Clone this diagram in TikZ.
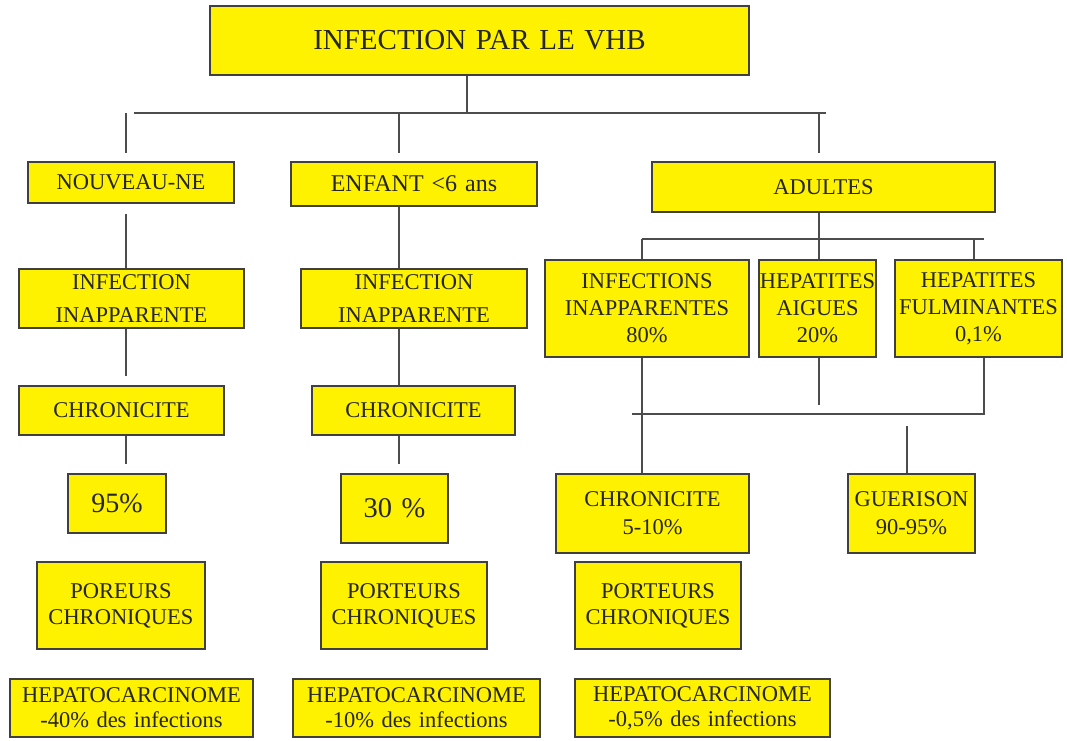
\documentclass[tikz,border=0pt]{standalone}
\usepackage{fontspec}
\setmainfont{Liberation Serif}
\usepackage{tikz}

\tikzset{
  bx/.style={draw=black!75, line width=1.3pt, fill=yellow, text=black!85,
    align=center, inner sep=0pt, font=\fontsize{22.5}{27}\selectfont},
  wire/.style={draw=black!70, line width=1.3pt}
}

\begin{document}
\begin{tikzpicture}[x=1pt,y=-1pt]
	\useasboundingbox (0,0) rectangle (1067,740);
	% top
	\node[bx, text width=539pt, minimum height=69pt, font=\fontsize{29}{33}\selectfont] (main) at (479.5,40.5) {INFECTION PAR LE VHB};
	% nouveau-ne
	\node[bx, text width=206pt, minimum height=41pt] (nn) at (131,182.5) {NOUVEAU-NE};
	\node[bx, text width=225pt, minimum height=59pt, font=\fontsize{22.5}{33}\selectfont] (infA) at (131.5,298.5) {INFECTION\\INAPPARENTE};
	\node[bx, text width=205pt, minimum height=49pt] (chrA) at (121.5,410.5) {CHRONICITE};
	\node[bx, text width=98pt, minimum height=59pt, font=\fontsize{28}{32}\selectfont] (pctA) at (117,503.5) {95\%};
	\node[bx, text width=168pt, minimum height=87pt, font=\fontsize{22.5}{26}\selectfont] (porA) at (121,605.5) {POREURS\\CHRONIQUES};
	\node[bx, text width=243pt, minimum height=58pt, font=\fontsize{22.5}{25}\selectfont] (hepA) at (131.5,708) {HEPATOCARCINOME\\-40\% des infections};
	% enfant
	\node[bx, text width=246pt, minimum height=44pt, font=\fontsize{24}{27}\selectfont] (enf) at (414,184) {ENFANT <6 ans};
	\node[bx, text width=226pt, minimum height=59pt, font=\fontsize{22.5}{33}\selectfont] (infB) at (414,298.5) {INFECTION\\INAPPARENTE};
	\node[bx, text width=203pt, minimum height=49pt] (chrB) at (413.5,410.5) {CHRONICITE};
	\node[bx, text width=107pt, minimum height=69pt, font=\fontsize{28.5}{32}\selectfont] (pctB) at (394.5,508.5) {30 \%};
	\node[bx, text width=166pt, minimum height=87pt, font=\fontsize{22.5}{26}\selectfont] (porB) at (404,605.5) {PORTEURS\\CHRONIQUES};
	\node[bx, text width=247pt, minimum height=58pt, font=\fontsize{22.5}{25}\selectfont] (hepB) at (416.5,708) {HEPATOCARCINOME\\-10\% des infections};
	% adultes
	\node[bx, text width=343pt, minimum height=50pt] (adu) at (823.5,187) {ADULTES};
	\node[bx, text width=204pt, minimum height=97pt] (infC) at (647,308.5) {INFECTIONS\\INAPPARENTES\\80\%};
	\node[bx, text width=117pt, minimum height=97pt] (aig) at (817.5,308.5) {HEPATITES\\AIGUES\\20\%};
	\node[bx, text width=167pt, minimum height=97pt] (ful) at (978.5,308.5) {HEPATITES\\FULMINANTES\\0,1\%};
	\node[bx, text width=193pt, minimum height=79pt, font=\fontsize{22.5}{28}\selectfont] (chrC) at (652.5,513.5) {CHRONICITE\\5-10\%};
	\node[bx, text width=127pt, minimum height=79pt, font=\fontsize{22.5}{28}\selectfont] (gue) at (911.5,513.5) {GUERISON\\90-95\%};
	\node[bx, text width=166pt, minimum height=87pt, font=\fontsize{22.5}{26}\selectfont] (porC) at (658,605.5) {PORTEURS\\CHRONIQUES};
	\node[bx, text width=255pt, minimum height=58pt, font=\fontsize{22.5}{25}\selectfont] (hepC) at (702.5,708) {HEPATOCARCINOME\\-0,5\% des infections};

	% bus points
	\coordinate (stem) at (467,113);
	\coordinate (busL) at (134,113);
	\coordinate (busR) at (826,113);
	\coordinate (colA) at (126,153);
	\coordinate (colB) at (399,153);
	\coordinate (colC) at (819,153);
	\coordinate (subL) at (642,239);
	\coordinate (subR) at (984,239);
	\coordinate (fulin) at (974,239);
	\coordinate (aigend) at (819,405);
	\coordinate (mergeR) at (984,414);
	\coordinate (mergeL) at (632,414);
	\coordinate (gueup) at (907,426);

	% main
	\draw[wire] (stem |- main.south) -- (stem);
	\draw[wire] (busL) -- (busR);
	\draw[wire] (colA |- busL) -- (colA);
	\draw[wire] (colB |- busL) -- (colB);
	\draw[wire] (colC |- busL) -- (colC);
	% nouveau-ne
	\draw[wire] ([yshift=-10pt]colA |- nn.south) -- (colA |- infA.north);
	\draw[wire] (colA |- infA.south) -- ([yshift=9pt]colA |- chrA.north);
	\draw[wire] (colA |- chrA.south) -- ([yshift=9pt]colA |- pctA.north);
	% enfant
	\draw[wire] (colB |- enf.south) -- (colB |- infB.north);
	\draw[wire] (colB |- infB.south) -- (colB |- chrB.north);
	\draw[wire] (colB |- chrB.south) -- ([yshift=9pt]colB |- pctB.north);
	% adultes
	\draw[wire] (colC |- adu.south) -- (colC |- aig.north);
	\draw[wire] (subL) -- (subR);
	\draw[wire] (subL) -- (subL |- infC.north);
	\draw[wire] (fulin) -- (fulin |- ful.north);
	\draw[wire] (subL |- infC.south) -- (subL |- chrC.north);
	\draw[wire] (colC |- aig.south) -- (aigend);
	\draw[wire] (mergeR |- ful.south) -- (mergeR) -- (mergeL);
	\draw[wire] (gueup) -- (gueup |- gue.north);
\end{tikzpicture}
\end{document}
